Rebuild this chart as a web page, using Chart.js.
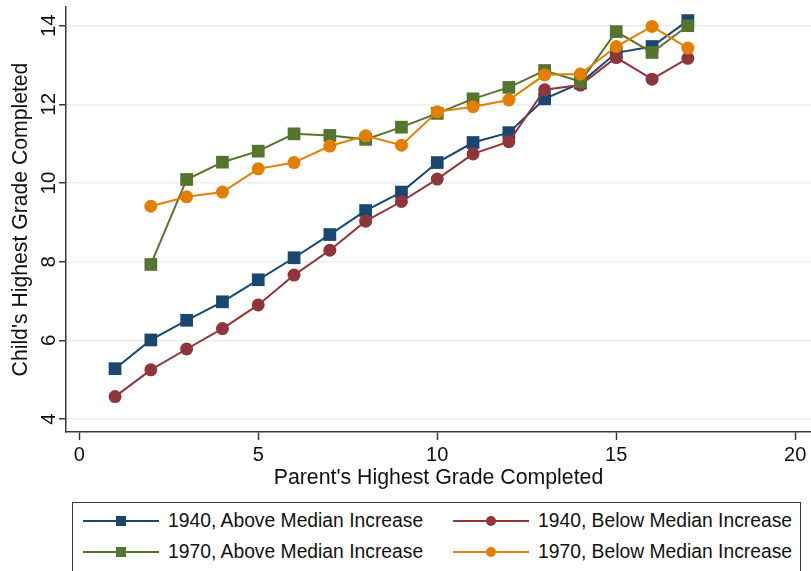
<!DOCTYPE html>
<html>
<head>
<meta charset="utf-8">
<title>Child's vs Parent's Highest Grade Completed</title>
<script src="https://cdn.jsdelivr.net/npm/chart.js@4/dist/chart.umd.min.js"></script>
<style>
  html, body { margin: 0; padding: 0; background: #fff; }
  #wrap { position: relative; width: 811px; height: 571px; overflow: hidden;
          font-family: "Liberation Sans", Arial, Helvetica, sans-serif; }
  #plot { position: absolute; left: 0; top: 0; }
  #legend { position: absolute; left: 72px; top: 502px; width: 729px; height: 120px;
            border: 1.5px solid #3a3a3a; box-sizing: border-box; }
  .item { position: absolute; display: flex; align-items: center; height: 24px; }
  .item span { font-size: 19.3px; color: #111; white-space: nowrap; margin-left: 9px; }
</style>
</head>
<body>
<div id="wrap">
  <canvas id="plot" width="811" height="502"></canvas>
  <div id="legend"></div>
</div>
<script>
// Parent's highest grade completed (x values)
const grades = [1, 2, 3, 4, 5, 6, 7, 8, 9, 10, 11, 12, 13, 14, 15, 16, 17];

// Child's mean highest grade completed, by cohort and county group
const above1940 = [5.28, 6.01, 6.51, 6.98, 7.54, 8.10, 8.69, 9.30, 9.77, 10.52, 11.03, 11.28, 12.14, 12.54, 13.31, 13.47, 14.13];
const below1940 = [4.57, 5.25, 5.78, 6.30, 6.90, 7.66, 8.29, 9.03, 9.53, 10.10, 10.74, 11.05, 12.37, 12.49, 13.19, 12.64, 13.17];
const above1970 = [null, 7.93, 10.09, 10.53, 10.81, 11.25, 11.21, 11.11, 11.42, 11.77, 12.14, 12.43, 12.86, 12.58, 13.85, 13.32, 14.00];
const below1970 = [null, 9.41, 9.65, 9.77, 10.36, 10.52, 10.94, 11.20, 10.96, 11.81, 11.94, 12.11, 12.75, 12.77, 13.47, 13.98, 13.43];

// Axis tick labels
const xTicks = [0, 5, 10, 15, 20];
const yTicks = [4, 6, 8, 10, 12, 14];

const FONT = '"Liberation Sans", Arial, Helvetica, sans-serif';
const AXIS = '#3a3a3a';
const TEXT = '#111';

function points(values) {
  return grades.map((g, i) => ({ x: g, y: values[i] })).filter(p => p.y !== null);
}

function series(label, values, color, shape, order) {
  return {
    label,
    data: points(values),
    borderColor: color,
    backgroundColor: color,
    borderWidth: 2,
    pointStyle: shape,
    pointRadius: shape === 'rect' ? 9 : 6.5,
    pointHoverRadius: shape === 'rect' ? 9 : 6.5,
    pointBorderWidth: 0,
    pointBackgroundColor: color,
    tension: 0,
    order
  };
}

const datasets = [
  series('1940, Above Median Increase', above1940, '#1a476f', 'rect', 4),
  series('1940, Below Median Increase', below1940, '#90353b', 'circle', 3),
  series('1970, Above Median Increase', above1970, '#55752f', 'rect', 2),
  series('1970, Below Median Increase', below1970, '#e37e00', 'circle', 1)
];

// Fixed axis box sizes; edge label padding is not wanted
function fixBox(size) {
  return s => {
    if (s.isHorizontal()) s.height = size; else s.width = size;
    s.paddingTop = 0; s.paddingBottom = 0; s.paddingLeft = 0; s.paddingRight = 0;
  };
}

const chart = new Chart(document.getElementById('plot'), {
  type: 'line',
  data: { datasets },
  options: {
    responsive: false,
    animation: false,
    layout: { autoPadding: false, padding: { top: 7, right: 0, left: 0, bottom: 0 } },
    plugins: { legend: { display: false }, tooltip: { enabled: false } },
    scales: {
      x: {
        type: 'linear',
        min: -0.37,
        max: 20.44,
        afterBuildTicks: s => { s.ticks = xTicks.map(v => ({ value: v })); },
        afterFit: fixBox(70),
        grid: { drawOnChartArea: false, tickLength: 8, tickColor: AXIS, tickWidth: 1.5 },
        border: { color: AXIS, width: 1.5 },
        ticks: { font: { family: FONT, size: 20 }, color: TEXT, padding: 3, maxRotation: 0, autoSkip: false },
        title: {
          display: true,
          text: "Parent's Highest Grade Completed",
          font: { family: FONT, size: 21.3 },
          color: TEXT,
          padding: { top: 0, bottom: 11.5 }
        }
      },
      y: {
        type: 'linear',
        min: 3.67,
        max: 14.475,
        afterBuildTicks: s => { s.ticks = yTicks.map(v => ({ value: v })); },
        afterFit: fixBox(66),
        grid: { color: '#e8f0f2', lineWidth: 1.5, tickLength: 7, tickColor: AXIS, tickWidth: 1.5 },
        border: { color: AXIS, width: 1.5 },
        ticks: {
          font: { family: FONT, size: 20.5 }, color: TEXT,
          minRotation: 90, maxRotation: 90, crossAlign: 'center', padding: -2, autoSkip: false
        },
        title: {
          display: true,
          text: "Child's Highest Grade Completed",
          font: { family: FONT, size: 21.2 },
          color: TEXT,
          padding: { top: 8, bottom: 0 }
        }
      }
    }
  }
});

// Legend: two columns of line-and-marker samples inside a framed box
const legendSlots = [
  { left: 83, top: 521 }, { left: 453, top: 521 },
  { left: 83, top: 552 }, { left: 453, top: 552 }
];
const wrap = document.getElementById('wrap');
datasets.forEach((ds, i) => {
  const slot = legendSlots[i];
  const item = document.createElement('div');
  item.className = 'item';
  item.style.left = slot.left + 'px';
  item.style.top = (slot.top - 12) + 'px';
  const c = document.createElement('canvas');
  c.width = 76; c.height = 16;
  const ctx = c.getContext('2d');
  ctx.strokeStyle = ds.borderColor;
  ctx.lineWidth = 2;
  ctx.beginPath(); ctx.moveTo(0, 8); ctx.lineTo(76, 8); ctx.stroke();
  ctx.fillStyle = ds.backgroundColor;
  if (ds.pointStyle === 'rect') {
    ctx.fillRect(38 - 5, 8 - 5, 10, 10);
  } else {
    ctx.beginPath(); ctx.arc(38, 8, 5, 0, Math.PI * 2); ctx.fill();
  }
  const span = document.createElement('span');
  span.textContent = ds.label;
  item.appendChild(c);
  item.appendChild(span);
  wrap.appendChild(item);
});
</script>
</body>
</html>
